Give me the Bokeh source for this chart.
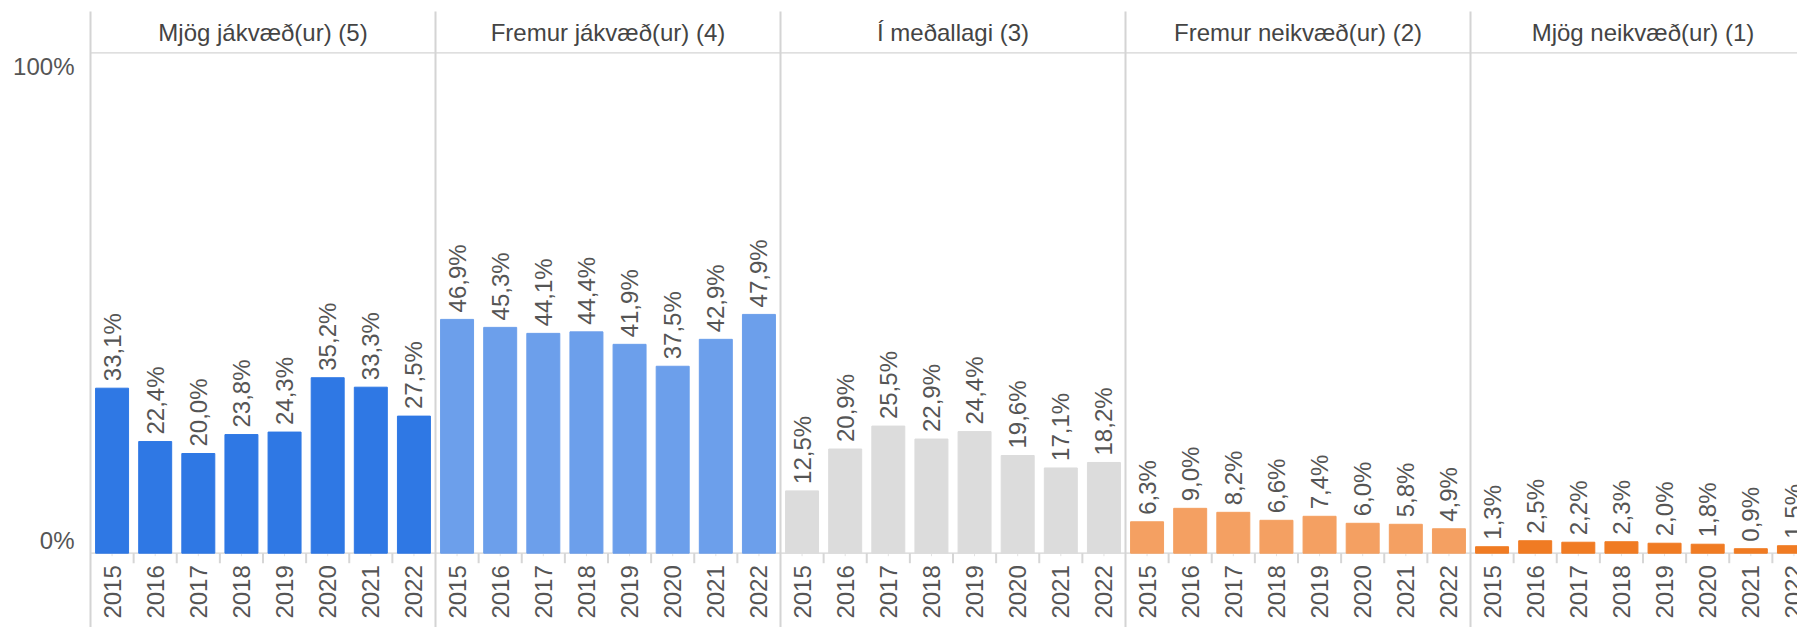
import numpy as np
from bokeh.plotting import figure
from bokeh.models import ColumnDataSource, Range1d
from bokeh.core.properties import value
from bokeh.embed import file_html
from bokeh.resources import INLINE

# ---------------- data ----------------
categories = ["Mjög jákvæð(ur) (5)", "Fremur jákvæð(ur) (4)", "Í meðallagi (3)",
              "Fremur neikvæð(ur) (2)", "Mjög neikvæð(ur) (1)"]
years = ["2015", "2016", "2017", "2018", "2019", "2020", "2021", "2022"]
mjog_jakvaed = [33.1, 22.4, 20.0, 23.8, 24.3, 35.2, 33.3, 27.5]
fremur_jakvaed = [46.9, 45.3, 44.1, 44.4, 41.9, 37.5, 42.9, 47.9]
i_medallagi = [12.5, 20.9, 25.5, 22.9, 24.4, 19.6, 17.1, 18.2]
fremur_neikvaed = [6.3, 9.0, 8.2, 6.6, 7.4, 6.0, 5.8, 4.9]
mjog_neikvaed = [1.3, 2.5, 2.2, 2.3, 2.0, 1.8, 0.9, 1.5]
series = [mjog_jakvaed, fremur_jakvaed, i_medallagi, fremur_neikvaed, mjog_neikvaed]
colors = ["#2F78E4", "#6C9FEB", "#DCDCDC", "#F4A062", "#F07B23"]
y_tick_labels = ["0%", "100%"]

# ---------------- layout ----------------
W, H = 1797, 627
left_px = 90.0        # panel area start inside the canvas
slot_px = 43.125      # width of one year slot
base_px = 552.7       # zero line from top of canvas
unit_px = 4.985       # pixels per percentage point
n_years = len(years)
n_pan = len(categories)

x_start = -left_px / slot_px
x_end = x_start + W / slot_px
y_end = base_px / unit_px
y_start = y_end - H / unit_px

FONT = value("Liberation Sans")
TXT = "#555555"

p = figure(width=W, height=H, output_backend="svg", toolbar_location=None,
           x_range=Range1d(x_start, x_end), y_range=Range1d(y_start, y_end),
           x_axis_location=None, y_axis_location=None, min_border=0,
           outline_line_color=None, background_fill_color="white",
           border_fill_color="white")
p.xgrid.visible = False
p.ygrid.visible = False

xs, tops, cols, labels, yrs = [], [], [], [], []
for i, vals in enumerate(series):
    for j, v in enumerate(vals):
        xs.append(i * n_years + j + 0.5)
        tops.append(v)
        cols.append(colors[i])
        labels.append(f"{v:.1f}".replace(".", ",") + "%")
        yrs.append(years[j])
src = ColumnDataSource(dict(x=xs, top=tops, color=cols, label=labels, year=yrs))

# separators / frame lines
bounds = np.arange(n_pan + 1) * n_years
sep_top = (base_px - 11.0) / unit_px
p.segment(x0=bounds, y0=[sep_top] * len(bounds), x1=bounds, y1=[y_start - 5] * len(bounds),
          line_color="#D4D4D4", line_width=2)
header_y = (base_px - 52.3) / unit_px
p.segment(x0=[0], y0=[header_y], x1=[x_end + 5], y1=[header_y],
          line_color="#D4D4D4", line_width=1.2)
p.segment(x0=[0], y0=[0], x1=[x_end + 5], y1=[0], line_color="#D4D4D4", line_width=1.2)

# ticks below the zero line
bt_x = [i * n_years + j for i in range(n_pan) for j in range(1, n_years)]
p.segment(x0=bt_x, y0=[0] * len(bt_x), x1=bt_x, y1=[-10 / unit_px] * len(bt_x),
          line_color="#D6D6D6", line_width=2)
p.segment(x0=xs, y0=[0] * len(xs), x1=xs, y1=[-3 / unit_px] * len(xs),
          line_color="#E2E2E2", line_width=1)

# bars
p.vbar(x="x", top="top", bottom=0, width=0.765, color="color", source=src)

# value labels
p.text(x="x", y="top", text="label", source=src, angle=np.pi / 2,
       text_align="left", text_baseline="middle", y_offset=-7,
       text_font=FONT, text_font_size="24px", text_color=TXT)

# year labels
p.text(x="x", y=0, text="year", source=src, angle=np.pi / 2,
       text_align="right", text_baseline="middle", y_offset=12,
       text_font=FONT, text_font_size="24px", text_color=TXT)

# panel headers
hx = [i * n_years + n_years / 2 for i in range(n_pan)]
p.text(x=hx, y=[(base_px - 32.0) / unit_px] * n_pan, text=categories,
       text_align="center", text_baseline="middle",
       text_font=FONT, text_font_size="24px", text_color="#444444")

# y labels
p.text(x=[0, 0], y=[0, 100], text=y_tick_labels, x_offset=-16, y_offset=[-13, 12],
       text_align="right", text_baseline="middle",
       text_font=FONT, text_font_size="24px", text_color=TXT)

open("out.html", "w").write(file_html(p, INLINE))
